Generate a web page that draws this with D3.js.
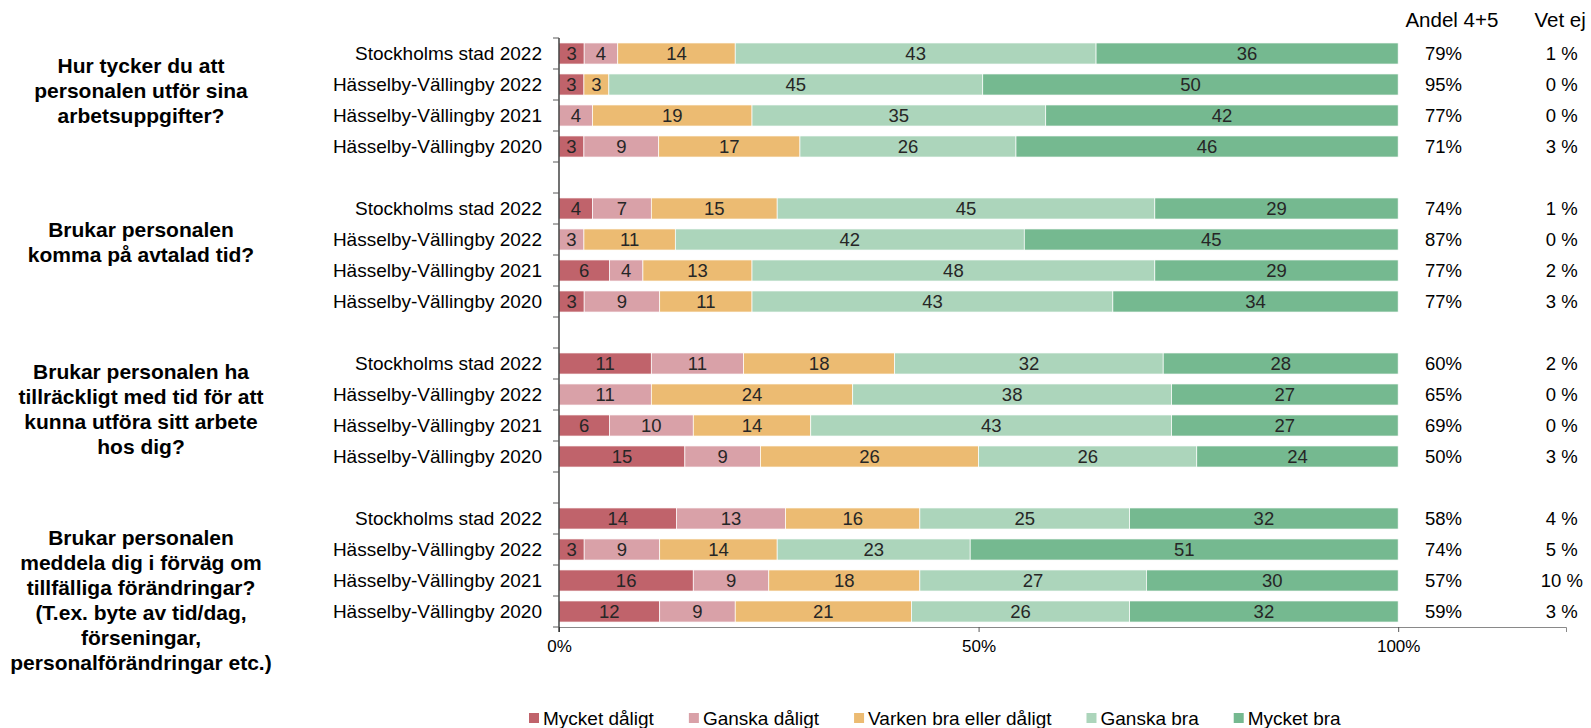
<!DOCTYPE html>
<html>
<head>
<meta charset="utf-8">
<script src="https://cdn.jsdelivr.net/npm/d3@7"></script>
<style>
  body { margin: 0; background: #fff; }
  svg { font-family: "Liberation Sans", Arial, sans-serif; }
</style>
</head>
<body>
<div id="container"></div>
<script>
const WIDTH = 1591;
const HEIGHT = 728;

const series = ['Mycket dåligt', 'Ganska dåligt', 'Varken bra eller dåligt', 'Ganska bra', 'Mycket bra'];
const colors = ['#c0636b', '#d9a1a8', '#ecbb72', '#acd5bb', '#75b990'];

const questions = [
    ['Hur tycker du att', 'personalen utför sina', 'arbetsuppgifter?'],
    ['Brukar personalen', 'komma på avtalad tid?'],
    ['Brukar personalen ha', 'tillräckligt med tid för att', 'kunna utföra sitt arbete', 'hos dig?'],
    ['Brukar personalen', 'meddela dig i förväg om', 'tillfälliga förändringar?', '(T.ex. byte av tid/dag,', 'förseningar,', 'personalförändringar etc.)']
];
const units = ['Stockholms stad 2022', 'Hässelby-Vällingby 2022', 'Hässelby-Vällingby 2021', 'Hässelby-Vällingby 2020'];

// one row per question x unit, in the order of the picture
const values = [
    [3, 4, 14, 43, 36],
    [3, 0, 3, 45, 50],
    [0, 4, 19, 35, 42],
    [3, 9, 17, 26, 46],

    [4, 7, 15, 45, 29],
    [0, 3, 11, 42, 45],
    [6, 4, 13, 48, 29],
    [3, 9, 11, 43, 34],

    [11, 11, 18, 32, 28],
    [0, 11, 24, 38, 27],
    [6, 10, 14, 43, 27],
    [15, 9, 26, 26, 24],

    [14, 13, 16, 25, 32],
    [3, 9, 14, 23, 51],
    [16, 9, 18, 27, 30],
    [12, 9, 21, 26, 32]
];
const andel = [79, 95, 77, 71, 74, 87, 77, 77, 60, 65, 69, 50, 58, 74, 57, 59];
const vetEj = [1, 0, 0, 3, 1, 0, 2, 3, 2, 0, 0, 3, 4, 5, 10, 3];

const xTicks = [0, 0.5, 1];

// layout
const PLOT = { LEFT: 559, TOP: 38, BOTTOM: 627 };
const PLOT_RIGHT = 1566;
const TITLE_X = 141;
const TITLE_CENTERS = [91, 242, 409, 600];
const LINE_H = 25;

// slots: 4 rows per question, an empty slot between questions
const rows = [];
const slots = [];
questions.forEach((q, qi) => {
    units.forEach((u, ui) => {
        const i = qi * units.length + ui;
        const total = d3.sum(values[i]);
        let acc = 0;
        const segs = values[i].map((v, si) => {
            const s = { si, v, x0: acc / total, x1: (acc + v) / total };
            acc += v;
            return s;
        });
        rows.push({ key: `r${i}`, unit: u, segs, andel: andel[i], vetEj: vetEj[i] });
        slots.push(`r${i}`);
    });
    if (qi < questions.length - 1) slots.push(`gap${qi}`);
});

const x = d3.scaleLinear().domain([0, 1.2]).range([PLOT.LEFT, PLOT_RIGHT]);
const y = d3.scaleBand().domain(slots).range([PLOT.TOP, PLOT.BOTTOM])
    .paddingInner(0.32).paddingOuter(0.16);

const svg = d3.select('#container')
  .append('svg')
    .attr('width', WIDTH)
    .attr('height', HEIGHT);

// bars
const rowG = svg.selectAll('.row')
    .data(rows)
    .enter()
    .append('g')
    .attr('class', 'row')
    .attr('transform', r => `translate(0, ${y(r.key)})`);

rowG.selectAll('rect')
    .data(r => r.segs.filter(s => s.v > 0))
    .enter()
    .append('rect')
    .attr('x', s => x(s.x0))
    .attr('width', s => x(s.x1) - x(s.x0))
    .attr('height', y.bandwidth())
    .attr('fill', s => colors[s.si])
    .attr('stroke', '#fff')
    .attr('stroke-width', 0.7);

rowG.selectAll('.seg-label')
    .data(r => r.segs.filter(s => s.v > 0))
    .enter()
    .append('text')
    .attr('class', 'seg-label')
    .attr('x', s => (x(s.x0) + x(s.x1)) / 2)
    .attr('y', y.bandwidth() / 2)
    .attr('dy', '0.35em')
    .attr('text-anchor', 'middle')
    .attr('font-size', 18.5)
    .attr('fill', '#262626')
    .text(s => s.v);

// category labels
rowG.append('text')
    .attr('x', PLOT.LEFT - 17)
    .attr('y', y.bandwidth() / 2)
    .attr('dy', '0.35em')
    .attr('text-anchor', 'end')
    .attr('font-size', 19)
    .attr('fill', '#000')
    .text(r => r.unit);

// right columns
rowG.append('text')
    .attr('x', x(1.054))
    .attr('y', y.bandwidth() / 2)
    .attr('dy', '0.35em')
    .attr('text-anchor', 'middle')
    .attr('font-size', 18.5)
    .text(r => `${r.andel}%`);

rowG.append('text')
    .attr('x', x(1.195))
    .attr('y', y.bandwidth() / 2)
    .attr('dy', '0.35em')
    .attr('text-anchor', 'middle')
    .attr('font-size', 18.5)
    .text(r => `${r.vetEj} %`);

svg.append('text')
    .attr('x', x(1.064)).attr('y', 20).attr('dy', '0.35em')
    .attr('text-anchor', 'middle').attr('font-size', 20.5)
    .text('Andel 4+5');
svg.append('text')
    .attr('x', x(1.193)).attr('y', 20).attr('dy', '0.35em')
    .attr('text-anchor', 'middle').attr('font-size', 20.5)
    .text('Vet ej');

// x axis
const xAxis = svg.append('g')
    .attr('transform', `translate(0, ${PLOT.BOTTOM})`)
    .call(d3.axisBottom(x).tickValues(xTicks).tickFormat(d3.format('.0%'))
        .tickSizeOuter(0).tickSize(5).tickPadding(8));
xAxis.select('.domain').attr('stroke', '#898989');
xAxis.selectAll('.tick line').attr('stroke', '#595959');
xAxis.selectAll('.tick text')
    .attr('font-size', 17)
    .attr('font-family', '"Liberation Sans", Arial, sans-serif')
    .attr('fill', '#000');

// y axis with ticks on the slot boundaries
const yAxis = svg.append('g');
yAxis.append('line')
    .attr('x1', PLOT.LEFT).attr('x2', PLOT.LEFT)
    .attr('y1', PLOT.TOP).attr('y2', PLOT.BOTTOM + 5)
    .attr('stroke', '#262626').attr('stroke-width', 1.3);
yAxis.selectAll('.ytick')
    .data(d3.range(slots.length + 1))
    .enter()
    .append('line')
    .attr('x1', PLOT.LEFT - 6).attr('x2', PLOT.LEFT)
    .attr('y1', i => PLOT.TOP + i * y.step())
    .attr('y2', i => PLOT.TOP + i * y.step())
    .attr('stroke', '#595959');

// question titles
questions.forEach((q, qi) => {
    const top = TITLE_CENTERS[qi] - (q.length - 1) * LINE_H / 2;
    svg.append('text')
        .attr('text-anchor', 'middle')
        .attr('font-size', 21)
        .attr('font-weight', 'bold')
        .attr('fill', '#000')
      .selectAll('tspan')
        .data(q)
        .enter()
        .append('tspan')
        .attr('x', TITLE_X)
        .attr('y', (d, i) => top + i * LINE_H)
        .attr('dy', '0.35em')
        .text(d => d);
});

// legend
const legend = svg.append('g').attr('transform', 'translate(529, 718)');
let lx = 0;
series.forEach((name, i) => {
    const item = legend.append('g').attr('transform', `translate(${lx}, 0)`);
    item.append('rect')
        .attr('x', 0).attr('y', -5)
        .attr('width', 10).attr('height', 10)
        .attr('fill', colors[i]);
    const t = item.append('text')
        .attr('x', 14)
        .attr('dy', '0.35em')
        .attr('font-size', 19)
        .text(name);
    lx += 14 + t.node().getComputedTextLength() + 35;
});
</script>
</body>
</html>
